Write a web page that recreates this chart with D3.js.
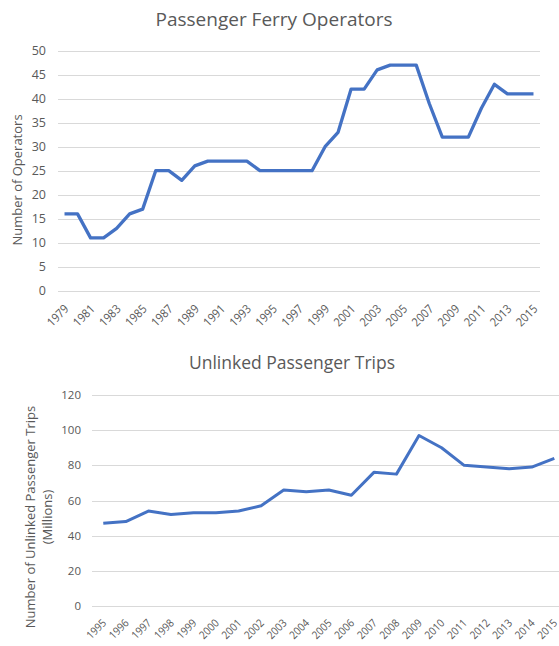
<!DOCTYPE html>
<html><head><meta charset="utf-8">
<script src="https://cdn.jsdelivr.net/npm/d3@7/dist/d3.min.js"></script>
<style>
html,body{margin:0;padding:0;background:#fff;}
svg{display:block;}
text{font-family:"Open Sans",sans-serif;fill:#595959;}
</style></head><body>
<svg id="c" width="559" height="646"></svg>
<script>
// Chart 1: Passenger Ferry Operators
const ferryYears = d3.range(1979, 2016);
const ferryOperators = [16,16,11,11,13,16,17,25,25,23,26,27,27,27,27,25,25,25,25,25,30,33,42,42,46,47,47,47,39,32,32,32,38,43,41,41,41];
const ferryTicks = [0,5,10,15,20,25,30,35,40,45,50];

// Chart 2: Unlinked Passenger Trips (Millions)
const tripYears = d3.range(1995, 2016);
const tripValues = [47,48,54,52,53,53,54,57,66,65,66,63,76,75,97,90,80,79,78,79,84];
const tripTicks = [0,20,40,60,80,100,120];

const svg = d3.select("#c");
const blue = "#4472C4", grid = "#d9d9d9";

function drawChart(cfg){
  const g = svg.append("g");
  const x = d3.scalePoint().domain(cfg.years).range([cfg.left, cfg.right]).padding(0.5);
  const y = d3.scaleLinear().domain([0, cfg.ymax]).range([cfg.bottom, cfg.top]);
  // grid
  g.append("g").selectAll("line").data(cfg.ticks).join("line")
    .attr("x1", cfg.left).attr("x2", cfg.right)
    .attr("y1", d => Math.round(y(d)) + 0.5).attr("y2", d => Math.round(y(d)) + 0.5)
    .attr("stroke", grid).attr("stroke-width", 1);
  // y labels
  g.append("g").selectAll("text").data(cfg.ticks).join("text")
    .attr("x", cfg.left - cfg.ylabGap).attr("y", d => y(d)).attr("dy", "0.35em")
    .attr("text-anchor", "end").style("font-size", cfg.yfs).text(d => d);
  // x labels
  g.append("g").selectAll("text").data(cfg.years.filter((d,i) => i % cfg.every === 0)).join("text")
    .attr("text-anchor", "end")
    .attr("transform", d => `translate(${x(d) + cfg.xdx},${cfg.bottom + cfg.xdy}) rotate(-45) scale(0.9,1)`)
    .attr("dy", "0.35em")
    .style("font-size", cfg.xfs).text(d => d);
  // line
  g.append("path").datum(cfg.values.map((v,i) => [cfg.years[i], v]))
    .attr("fill", "none").attr("stroke", blue).attr("stroke-width", cfg.lw)
    .attr("stroke-linejoin", "round")
    .attr("d", d3.line().x(d => x(d[0])).y(d => y(d[1])));
  // title
  g.append("text").attr("x", cfg.titleX).attr("y", cfg.titleY).attr("text-anchor", "middle")
    .style("font-size", cfg.tfs).text(cfg.title);
  // y title
  const yt = g.append("text").attr("text-anchor", "middle")
    .attr("transform", `translate(${cfg.ytX},${cfg.ytY}) rotate(-90)`)
    .style("font-size", "13px");
  cfg.ytitle.forEach((t, i) => yt.append("tspan").attr("x", 0).attr("dy", i === 0 ? 0 : "1.3em").text(t));
}

drawChart({years: ferryYears, values: ferryOperators, ticks: ferryTicks, ymax: 50,
  left: 58, right: 540, top: 50.7, bottom: 290.7, every: 2, xfs: "12px", xdx: 2, xdy: 16,
  yfs: "12.5px", ylabGap: 12, lw: 3.3,
  title: "Passenger Ferry Operators", titleX: 274, titleY: 26, tfs: "19px",
  ytitle: ["Number of Operators"], ytX: 22, ytY: 180});

drawChart({years: tripYears, values: tripValues, ticks: tripTicks, ymax: 120,
  left: 92, right: 565.6, top: 395, bottom: 606, every: 1, xfs: "11px", xdx: 1, xdy: 15,
  yfs: "11.5px", ylabGap: 11, lw: 3,
  title: "Unlinked Passenger Trips", titleX: 292, titleY: 369, tfs: "17.5px",
  ytitle: ["Number of Unlinked Passenger Trips", "(Millions)"], ytX: 35, ytY: 517});
</script>
</body></html>
